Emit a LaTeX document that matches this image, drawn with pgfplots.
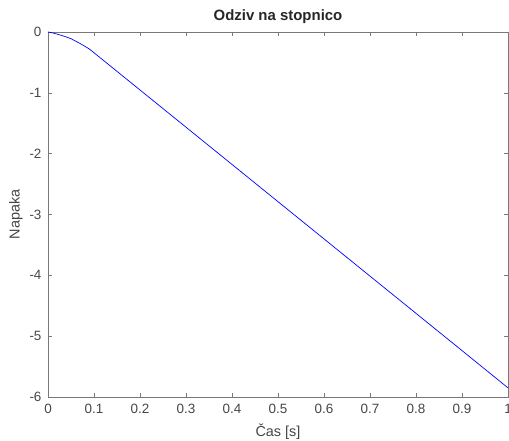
\documentclass[border=0pt]{standalone}
\usepackage{pgfplots}
\pgfplotsset{compat=1.18}
\usepackage{fontspec}
\setmainfont{Liberation Sans}
\definecolor{axc}{RGB}{120,120,120}
\definecolor{txc}{RGB}{70,70,70}
\begin{document}
\begin{tikzpicture}
\useasboundingbox (-48bp,-44bp) rectangle (461bp,397bp);
\begin{axis}[
  at={(0,0)}, anchor=south west,
  scale only axis, width=460bp, height=365bp,
  xmin=0, xmax=1, ymin=-6, ymax=0,
  xtick={0,0.1,...,1}, ytick={-6,-5,...,0},
  xticklabels={0,0.1,0.2,0.3,0.4,0.5,0.6,0.7,0.8,0.9,1},
  yticklabels={-6,-5,-4,-3,-2,-1,0},
  tick align=inside, major tick length=4bp,
  axis line style={axc, line width=0.8pt},
  every tick/.style={axc, line width=0.6pt},
  xticklabel style={txc, font=\fontsize{13.5}{15}\selectfont, yshift=-4bp},
  yticklabel style={txc, font=\fontsize{13.5}{15}\selectfont, xshift=-3bp},
  /pgf/number format/assume math mode=true,
  title={\textbf{Odziv na stopnico}},
  title style={font=\fontsize{15}{17}\selectfont, black!85, at={(axis description cs:0.5,1)}, anchor=center, yshift=9bp},
  xlabel={Čas [s]}, ylabel={Napaka},
  label style={txc, font=\fontsize{14.5}{16}\selectfont},
  xlabel style={at={(axis description cs:0.5,0)}, anchor=center, yshift=-35bp},
  ylabel style={at={(axis description cs:0,0.5)}, anchor=center, yshift=32bp},
  clip=true,
]
\addplot[blue, line width=0.7pt] coordinates {
(0,0) (0.01,-0.015) (0.02,-0.035) (0.03,-0.058) (0.04,-0.082) (0.05,-0.11)
(0.06,-0.15) (0.07,-0.19) (0.08,-0.235) (0.09,-0.28) (0.1,-0.341)
(0.2,-0.953) (0.3,-1.565) (0.4,-2.177) (0.5,-2.789) (0.6,-3.401)
(0.7,-4.013) (0.8,-4.625) (0.9,-5.237) (1,-5.85)
};
\end{axis}
\end{tikzpicture}
\end{document}
